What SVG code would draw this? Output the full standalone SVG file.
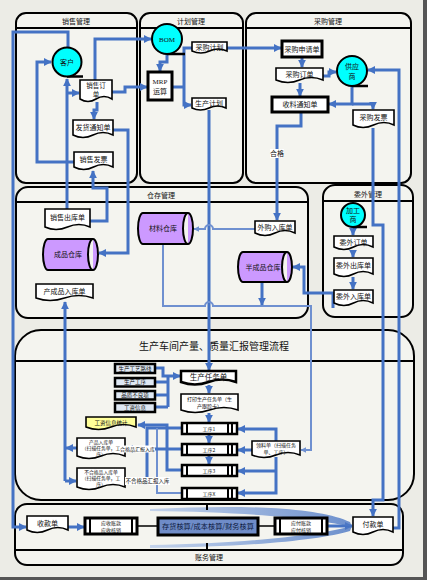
<svg xmlns="http://www.w3.org/2000/svg" width="427" height="580" viewBox="0 0 427 580">
<style>
.pnl{fill:#f4f4ef;stroke:#000;stroke-width:2}
.hd{stroke:#000;stroke-width:2}
.t{font-family:"Noto Sans CJK SC","Liberation Sans",sans-serif;font-size:7px;fill:#111;text-anchor:middle}
.s5{font-size:5px}
.s55{font-size:5.5px}
.s48{font-size:4.8px}
.ser{font-family:"Liberation Serif","Noto Sans CJK SC",serif}
.doc{fill:#fff;stroke:#000;stroke-width:1.6}
.bx{fill:#fff;stroke:#000;stroke-width:3}
.sb{fill:#dfe8f3;stroke:#000;stroke-width:2.5}
.bar{stroke:#000;stroke-width:2}
.c{stroke:#4472c4;stroke-width:3;fill:none}
.c2{stroke:#6f90d0;stroke-width:2;fill:none}
.k{stroke:#000;stroke-width:1.6;fill:none}
.cir{fill:#00ffff;stroke:#000;stroke-width:2}
.tail{stroke:#000;stroke-width:2.5}
.cyl{fill:#cc99ff;stroke:#000;stroke-width:2}
.lbl{fill:#fff}
</style>
<defs>
<marker id="a" viewBox="0 0 10 10" refX="9" refY="5" markerWidth="2.6" markerHeight="2.6" orient="auto"><path d="M0,0 L10,5 L0,10 Z" fill="#4472c4"/></marker>
<marker id="b" viewBox="0 0 10 10" refX="9" refY="5" markerWidth="3" markerHeight="3" orient="auto"><path d="M0,0 L10,5 L0,10 Z" fill="#6f90d0"/></marker>
<linearGradient id="sw" x1="0" x2="1" y1="0" y2="0"><stop offset="0" stop-color="#b8cbea"/><stop offset="1" stop-color="#4a76c4"/></linearGradient>
</defs>
<rect width="427" height="580" fill="#ecece6"/>
<rect x="423" y="0" width="4" height="580" fill="#555"/>
<rect x="0" y="577" width="427" height="3" fill="#555"/>

<g id="panels">
<rect class="pnl" x="16" y="13" width="121" height="170" rx="10"/><line class="hd" x1="16" y1="28" x2="137" y2="28"/>
<text class="t" x="76" y="24">销售管理</text>
<rect class="pnl" x="140" y="13" width="103" height="170" rx="10"/><line class="hd" x1="140" y1="28" x2="243" y2="28"/>
<text class="t" x="191" y="24">计划管理</text>
<rect class="pnl" x="246" y="13" width="165" height="170" rx="10"/><line class="hd" x1="246" y1="28" x2="411" y2="28"/>
<text class="t" x="328" y="24">采购管理</text>
<rect class="pnl" x="16" y="187" width="292" height="131" rx="12"/><line class="hd" x1="16" y1="202" x2="308" y2="202"/>
<text class="t" x="161" y="198">仓存管理</text>
<rect class="pnl" x="323" y="185" width="90" height="132" rx="12"/><line class="hd" x1="323" y1="201" x2="413" y2="201"/>
<text class="t" x="368" y="197">委外管理</text>
<rect class="pnl" x="15" y="330" width="399" height="170" rx="26"/><line class="hd" x1="15" y1="361" x2="414" y2="361"/>
<text class="t" x="214" y="350" style="font-size:10px">生产车间产量、质量汇报管理流程</text>
<rect class="pnl" x="15" y="504" width="388" height="61" rx="12"/><line class="hd" x1="15" y1="550" x2="403" y2="550"/>
<text class="t" x="209" y="560">账务管理</text>
</g>

<g id="connectors">
<path class="c" d="M68,47 V32 H13 V527 H26" marker-end="url(#a)"/>
<path class="c" d="M67,209 V79" marker-end="url(#a)"/>
<path class="c" d="M68,93 H79" marker-end="url(#a)"/>
<path class="c" d="M95,80 V39 H151" marker-end="url(#a)"/>
<path class="c" d="M112,92 H125 V87 H147" marker-end="url(#a)"/>
<path class="c" d="M97,102 V110 H94 V119" marker-end="url(#a)"/>
<path class="c" d="M113,130 H128 V253 H99" marker-end="url(#a)"/>
<path class="c" d="M74,162 H37 V62 H51" marker-end="url(#a)"/>
<path class="c" d="M90,221 H107 V188 H93 V171" marker-end="url(#a)"/>
<path class="c" d="M167,54 V62 H160 V71" marker-end="url(#a)"/>
<path class="c" d="M172,87 H184"/>
<path class="c" d="M192,48 H184 V105 H191" marker-end="url(#a)"/>
<path class="c" d="M227,48 H281" marker-end="url(#a)"/>
<path class="c" d="M302,57 V67" marker-end="url(#a)"/>
<path class="c" d="M323,76 H329 V72 H336" marker-end="url(#a)"/>
<path class="c" d="M300,83 V96" marker-end="url(#a)"/>
<path class="c" d="M352,86 V104 H329" marker-end="url(#a)"/>
<path class="c" d="M352,104 H373 V109" marker-end="url(#a)"/>
<path class="c" d="M301,112 V126 H277 V220" marker-end="url(#a)"/>
<path class="c" d="M373,128 V225 H383 V500 H373 V516" marker-end="url(#a)"/>
<path class="c" d="M393,528 H399 V70 H368" marker-end="url(#a)"/>
<path class="c" d="M209,110 V370" marker-end="url(#a)"/>
<path class="c2" d="M255,229 H213 A4,4 0 0 0 205,229 H194" marker-end="url(#b)"/>
<path class="c2" d="M163,244 V306 H205 A4,4 0 0 1 213,306 H311 V450 H301" marker-end="url(#b)"/>
<path class="c" d="M262,282 V305" marker-end="url(#a)"/>
<path class="c" d="M333,308 V293 H304 V267 H293" marker-end="url(#a)"/>
<path class="c" d="M353,227 V235" marker-end="url(#a)"/>
<path class="c" d="M353,250 V257" marker-end="url(#a)"/>
<path class="c" d="M353,277 V289" marker-end="url(#a)"/>
<path class="c" d="M65,481 V302" marker-end="url(#a)"/>
<path class="c" d="M77,448 H66" marker-end="url(#a)"/>
<path class="c" d="M65,481 H76" marker-end="url(#a)"/>
<path class="c" d="M155,368 H163 V376 H180" marker-end="url(#a)"/>
<path class="c" d="M155,382 H168 M155,395 H168 M155,407 H168 M168,376 V407"/>
<path class="c" d="M209,385 V393" marker-end="url(#a)"/>
<path class="c" d="M209,413 V422" marker-end="url(#a)"/>
<path class="c" d="M209,434 V443" marker-end="url(#a)"/>
<path class="c" d="M209,455 V464" marker-end="url(#a)"/>
<path class="c" d="M182,470 H167 V425 H138" marker-end="url(#a)"/>
<path class="c" d="M182,428 H147 V481 H126" marker-end="url(#a)"/>
<path class="c2" d="M182,493 H157 V428"/>
<path class="c" d="M182,449 H126" marker-end="url(#a)"/>
<path class="c" d="M252,450 H238" marker-end="url(#a)"/>
<path class="c" d="M276,441 V429 H238" marker-end="url(#a)"/>
<path class="c" d="M276,457 V493 H238" marker-end="url(#a)"/>
<path class="c" d="M276,471 H238" marker-end="url(#a)"/>
<path class="c" d="M68,527 H84" marker-end="url(#a)"/>
<path class="k" d="M137,526 H158 M258,526 H275"/>
<path class="c" d="M327,526 H352" marker-end="url(#a)"/>
<path d="M150,509 C250,504 320,508 350,522 L352,527 C320,519 250,512 150,511 Z" fill="url(#sw)" opacity="0.8"/>
<path d="M150,548 C250,547 320,540 350,531 L352,526 C320,535 250,543 150,545 Z" fill="url(#sw)" opacity="0.8"/>
<path d="M207,505 V510 M207,543 V549" stroke="#000" stroke-width="2"/>
</g>

<g id="n-kehu"><line class="tail" x1="67" y1="76.5" x2="83" y2="76.5"/><circle class="cir" cx="67" cy="62" r="14.5"/><text class="t" x="67" y="64.5">客户</text></g>
<g id="n-xsdd"><path class="doc" d="M80,80 H112 V99 Q104,94 96,99 T80,99 Z"/><text class="t" x="96" y="88" style="font-size:6.5px">销售订</text><text class="t" x="96" y="96.5" style="font-size:6.5px">单</text></g>
<g id="n-fhtzd"><path class="doc" d="M73,120 H113 V135 Q103,130 93,135 T73,135 Z"/><text class="t" x="93" y="130">发货通知单</text></g>
<g id="n-xsfp"><path class="doc" d="M74,152 H113 V167 Q103.25,162 93.5,167 T74,167 Z"/><text class="t" x="93.5" y="162">销售发票</text></g>

<g id="n-bom"><line class="tail" x1="167" y1="54" x2="185" y2="54"/><circle class="cir" cx="167" cy="39" r="15"/><text class="t ser" x="167" y="41.5">BOM</text></g>
<g id="n-mrp"><rect class="bx" x="148" y="72" width="24" height="28"/><text class="t ser" x="160" y="84">MRP</text><text class="t" x="160" y="94">运算</text></g>
<g id="n-cgjh"><path class="doc" d="M192,42 H227 V51 Q218,47 209.5,51 T192,51 Z"/><text class="t" x="209.5" y="50">采购计划</text></g>
<g id="n-scjh"><path class="doc" d="M192,98 H226 V108 Q217.5,104 209,108 T192,108 Z"/><text class="t" x="209" y="106">生产计划</text></g>

<g id="n-cgsqd"><rect class="bx" x="282" y="41" width="40" height="16"/><text class="t" x="302" y="51.5">采购申请单</text></g>
<g id="n-cgdd"><path class="doc" d="M276,68 H323 V80 Q311,75 299.5,80 T276,80 Z"/><text class="t" x="299.5" y="77">采购订单</text></g>
<g id="n-gys"><line class="tail" x1="352" y1="86" x2="368" y2="86"/><circle class="cir" cx="352" cy="71" r="15"/><text class="t" x="352" y="69">供应</text><text class="t" x="352" y="78.5">商</text></g>
<g id="n-sltzd"><rect class="bx" x="272" y="97" width="56" height="15"/><text class="t" x="300" y="107">收料通知单</text></g>
<g id="n-cgfp"><path class="doc" d="M353,110 H394 V125 Q384,120 373.5,125 T353,125 Z"/><text class="t" x="373.5" y="120">采购发票</text></g>

<g id="n-xsckd"><path class="doc" d="M45,209 H90 V227 Q79,222 67.5,227 T45,227 Z"/><text class="t" x="67.5" y="220">销售出库单</text></g>
<g id="n-cpck"><path class="cyl" d="M48,239 H93 A5,15.5 0 0 1 93,270 H48 A5,15.5 0 0 1 48,239 Z M93,239 A5,15.5 0 0 0 93,270"/><text class="t" x="68" y="257">成品仓库</text></g>
<g id="n-ccprkd"><path class="doc" d="M36,284 H93 V298 Q79,293 64.5,298 T36,298 Z"/><text class="t" x="64.5" y="294">产成品入库单</text></g>
<g id="n-clck"><path class="cyl" d="M143,213 H188 A5,15.5 0 0 1 188,244 H143 A5,15.5 0 0 1 143,213 Z M188,213 A5,15.5 0 0 0 188,244"/><text class="t" x="163" y="231">材料仓库</text></g>
<g id="n-wgrkd"><path class="doc" d="M255,221 H295 V233 Q285,228 275,233 T255,233 Z"/><text class="t" x="275" y="230">外购入库单</text></g>
<g id="n-bcpck"><path class="cyl" d="M243,252 H287 A5,15 0 0 1 287,282 H243 A5,15 0 0 1 243,252 Z M287,252 A5,15 0 0 0 287,282"/><text class="t" x="263" y="269.5">半成品仓库</text></g>

<g id="n-jgs"><line class="tail" x1="353" y1="227" x2="367" y2="227"/><circle class="cir" cx="353" cy="215" r="12"/><text class="t" x="353" y="213">加工</text><text class="t" x="353" y="222">商</text></g>
<g id="n-wwdd"><path class="doc" d="M334,236 H373 V247 Q363,242 353.5,247 T334,247 Z"/><text class="t" x="353.5" y="244.5">委外订单</text></g>
<g id="n-wwckd"><path class="doc" d="M334,258 H373 V274 Q363,269 353.5,274 T334,274 Z"/><text class="t" x="353.5" y="267.5">委外出库单</text></g>
<g id="n-wwrkd"><path class="doc" d="M334,290 H373 V303 Q363,298 353.5,303 T334,303 Z"/><text class="t" x="353.5" y="299">委外入库单</text></g>

<g id="n-gylx"><rect class="sb" x="115" y="364" width="40" height="9"/><text class="t s55" x="135" y="370.5">生产工艺路线</text></g>
<g id="n-scgx"><rect class="sb" x="115" y="378" width="40" height="8.5"/><text class="t s55" x="135" y="384.3">生产工序</text></g>
<g id="n-pzblx"><rect class="sb" x="115" y="391" width="40" height="8.5"/><text class="t s55" x="135" y="397.3">品质不良项</text></g>
<g id="n-gzxx"><rect class="sb" x="115" y="403" width="40" height="9"/><text class="t s55" x="135" y="409.5">工资信息</text></g>
<g id="n-scrwd"><path class="doc" d="M181,371 H236 V382 Q222,377 208.5,382 T181,382 Z" style="stroke-width:2.5"/><text class="t" x="208.5" y="380" style="font-size:7.5px">生产任务单</text></g>
<g id="n-dyrwd"><path class="doc" d="M181,394 H238 V410 Q224,405 209.5,410 T181,410 Z"/><text class="t s5" x="209.5" y="401">打印生产任务单（生</text><text class="t s5" x="209.5" y="407.5">产跟踪卡）</text></g>
<g id="n-gx1"><rect class="bx" x="182" y="423" width="55" height="11" style="stroke-width:2.5"/><path class="bar" d="M187,423 V434 M228,423 V434 M232,423 V434"/><text class="t s5" x="209" y="430.5">工序1</text></g>
<g id="n-gx2"><rect class="bx" x="182" y="444" width="55" height="11" style="stroke-width:2.5"/><path class="bar" d="M187,444 V455 M228,444 V455 M232,444 V455"/><text class="t s5" x="209" y="451.5">工序2</text></g>
<g id="n-gx3"><rect class="bx" x="182" y="465" width="55" height="11" style="stroke-width:2.5"/><path class="bar" d="M187,465 V476 M228,465 V476 M232,465 V476"/><text class="t s5" x="209" y="472.5">工序3</text></g>
<g id="n-gxx"><rect class="bx" x="182" y="488" width="55" height="11" style="stroke-width:2.5"/><path class="bar" d="M187,488 V499 M228,488 V499 M232,488 V499"/><text class="t s5" x="209" y="495.5">工序X</text></g>
<g id="n-gztj"><path class="doc" d="M86,417 H136 V427 Q123.5,422 111,427 T86,427 Z" style="fill:#ffff99"/><text class="t s55" x="111" y="424.5">工资信息统计</text></g>
<g id="n-cprkd"><path class="doc" d="M77,438 H125 V456 Q113,451 101,456 T77,456 Z"/><text class="t s48" x="101" y="443.5">产品入库单</text><text class="t s48" x="101" y="449.5">（扫描任务单，工</text><text class="t s48" x="101" y="455.5">序）</text></g>
<g id="n-bhgrkd"><path class="doc" d="M77,468 H125 V487 Q113,482 101,487 T77,487 Z"/><text class="t s48" x="101" y="473.5">不合格品入库单</text><text class="t s48" x="101" y="479.5">（扫描任务单，工</text><text class="t s48" x="101" y="485.5">序）</text></g>
<g id="n-lld"><path class="doc" d="M252,441 H300 V455 Q288,450 276,455 T252,455 Z"/><text class="t s5" x="276" y="447">领料单（扫描任务</text><text class="t s5" x="276" y="453.5">单、工序）</text></g>

<g id="n-skd"><path class="doc" d="M27,516 H68 V530 Q57.75,525 47.5,530 T27,530 Z"/><text class="t" x="47.5" y="525.5">收款单</text></g>
<g id="n-ys"><rect class="bx" x="85" y="518" width="52" height="16"/><path class="bar" d="M90,518 V534 M132,518 V534"/><text class="t s5" x="111" y="524.5">应收账款</text><text class="t s5" x="111" y="531.5">应收核销</text></g>
<g id="n-hs"><rect class="bx" x="158" y="518" width="100" height="17" style="fill:#6f8cc8"/><text class="t" x="208" y="529" style="font-size:7.2px;fill:#0d1a40">存货核算/成本核算/财务核算</text></g>
<g id="n-yf"><rect class="bx" x="275" y="518" width="52" height="16"/><path class="bar" d="M280,518 V534 M322,518 V534"/><text class="t s5" x="301" y="524.5">应付账款</text><text class="t s5" x="301" y="531.5">应付核销</text></g>
<g id="n-fkd"><path class="doc" d="M353,517 H393 V532 Q383,527 373,532 T353,532 Z"/><text class="t" x="373" y="526.5">付款单</text></g>

<g id="labels">
<rect class="lbl" x="270" y="149" width="14" height="9"/><text class="t" x="277" y="156">合格</text>
<rect class="lbl" x="120" y="445.5" width="35" height="7"/><text class="t s5" x="137.5" y="451">合格品汇报入库</text>
<rect class="lbl" x="125" y="477" width="45" height="8"/><text class="t s55" x="147.5" y="483">不合格品汇报入库</text>
</g>
</svg>
